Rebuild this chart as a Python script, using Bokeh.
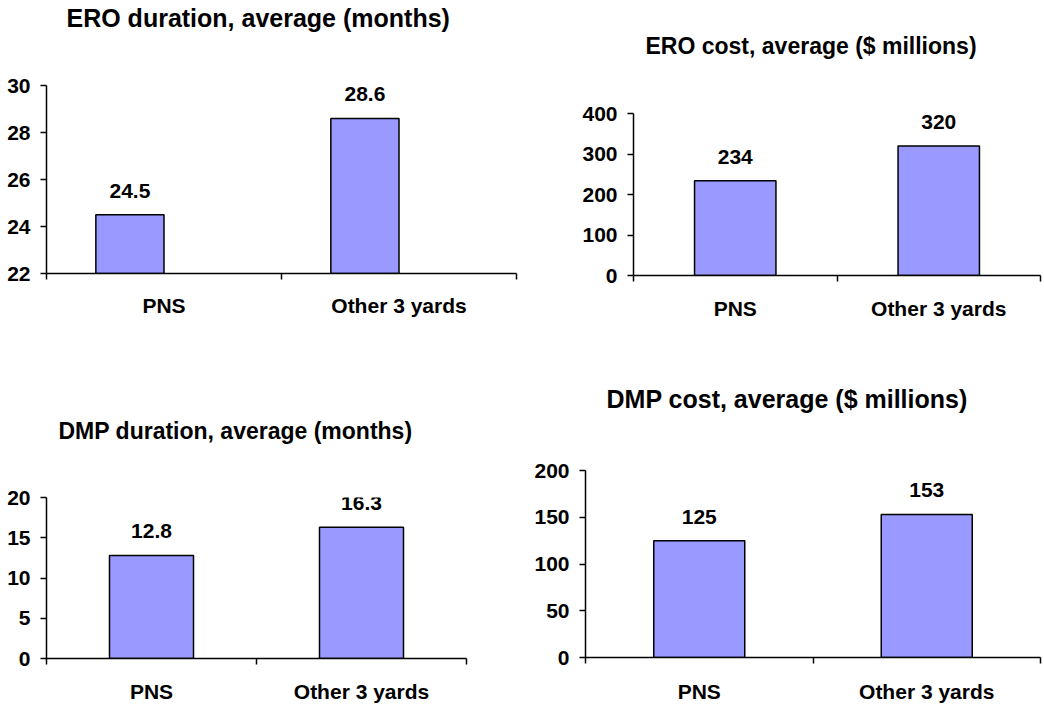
from bokeh.plotting import figure
from bokeh.layouts import column, row
from bokeh.models import Range1d, FixedTicker, Title, ColumnDataSource
from bokeh.core.properties import value
from bokeh.embed import file_html
from bokeh.resources import INLINE

categories = ["PNS", "Other 3 yards"]

ero_duration = [24.5, 28.6]
ero_cost = [234, 320]
dmp_duration = [12.8, 16.3]
dmp_cost = [125, 153]

ero_duration_ticks = [22, 24, 26, 28, 30]
ero_cost_ticks = [0, 100, 200, 300, 400]
dmp_duration_ticks = [0, 5, 10, 15, 20]
dmp_cost_ticks = [0, 50, 100, 150, 200]

titles = [
    "ERO duration, average (months)",
    "ERO cost, average ($ millions)",
    "DMP duration, average (months)",
    "DMP cost, average ($ millions)",
]

FONT = "Liberation Sans"
BAR_FILL = "#9999FF"


def make_chart(title, vals, ticks, width, height, borders, bar_width, bar_shift,
               title_offset, title_gap, title_size, xlabel_standoff, label_size=21):
    left, right, top, bottom = borders
    p = figure(width=width, height=height, output_backend="svg", toolbar_location=None,
               x_range=Range1d(0, len(categories)),
               y_range=Range1d(ticks[0], ticks[-1]),
               min_border_left=left, min_border_right=right,
               min_border_top=top, min_border_bottom=bottom,
               frame_align=False, title=None)
    p.outline_line_color = None
    p.xgrid.visible = False
    p.ygrid.visible = False
    p.background_fill_color = "white"

    xs = [i + 0.5 + bar_shift for i in range(len(categories))]
    src = ColumnDataSource(dict(x=xs, top=vals, label=[f"{v:g}" for v in vals]))
    p.vbar(x="x", top="top", bottom=ticks[0], width=bar_width, source=src,
           fill_color=BAR_FILL, line_color="black", line_width=1.5)
    p.text(x="x", y="top", text="label", source=src, text_align="center",
           text_baseline="middle", y_offset=-24, text_font=value(FONT),
           text_font_style="bold", text_font_size=f"{label_size}px", text_color="black")

    # x axis: boundary ticks (minor) and category labels (major)
    xa = p.xaxis[0]
    xa.ticker = FixedTicker(ticks=[i + 0.5 for i in range(len(categories))],
                            minor_ticks=list(range(len(categories) + 1)))
    xa.major_label_overrides = {i + 0.5: c for i, c in enumerate(categories)}
    xa.major_tick_out = 0
    xa.major_tick_in = 0
    xa.minor_tick_out = 6
    xa.minor_tick_in = 0
    xa.minor_tick_line_color = "black"
    xa.minor_tick_line_width = 1.5
    xa.axis_line_color = "black"
    xa.axis_line_width = 1.5
    xa.major_label_standoff = xlabel_standoff
    xa.major_label_text_font = FONT
    xa.major_label_text_font_style = "bold"
    xa.major_label_text_font_size = f"{label_size}px"
    xa.major_label_text_color = "black"

    ya = p.yaxis[0]
    ya.ticker = FixedTicker(ticks=ticks)
    ya.major_tick_out = 6
    ya.major_tick_in = 0
    ya.minor_tick_out = 0
    ya.minor_tick_in = 0
    ya.major_tick_line_width = 1.5
    ya.axis_line_width = 1.5
    ya.axis_line_color = "black"
    ya.major_tick_line_color = "black"
    ya.major_label_standoff = 10
    ya.major_label_text_font = FONT
    ya.major_label_text_font_style = "bold"
    ya.major_label_text_font_size = f"{label_size}px"
    ya.major_label_text_color = "black"

    # spacer (closest to the frame) then the real title above it
    p.add_layout(Title(text=" ", text_font_size="1px", standoff=title_gap), "above")
    p.add_layout(Title(text=title, align="left", offset=title_offset, standoff=0,
                       text_font=FONT, text_font_style="bold",
                       text_font_size=f"{title_size}px", text_color="black"), "above")
    return p


f1 = make_chart(titles[0], ero_duration, ero_duration_ticks, 528, 345, (46, 12, 85, 72),
                0.29, -0.145, 20, 51, 25, 14)
f2 = make_chart(titles[1], ero_cost, ero_cost_ticks, 514, 345, (105, 2, 113, 70),
                0.4, 0.0, 12, 52, 23, 15)
f3 = make_chart(titles[2], dmp_duration, dmp_duration_ticks, 528, 360, (46, 62, 152, 47),
                0.4, 0.0, 12, 51, 23, 15)
f4 = make_chart(titles[3], dmp_cost, dmp_cost_ticks, 514, 360, (57, 2, 125, 48),
                0.4, 0.0, 21, 55, 25, 16)

layout = column(row(f1, f2, spacing=0), row(f3, f4, spacing=0), spacing=0)
open("out.html", "w").write(file_html(layout, INLINE))
